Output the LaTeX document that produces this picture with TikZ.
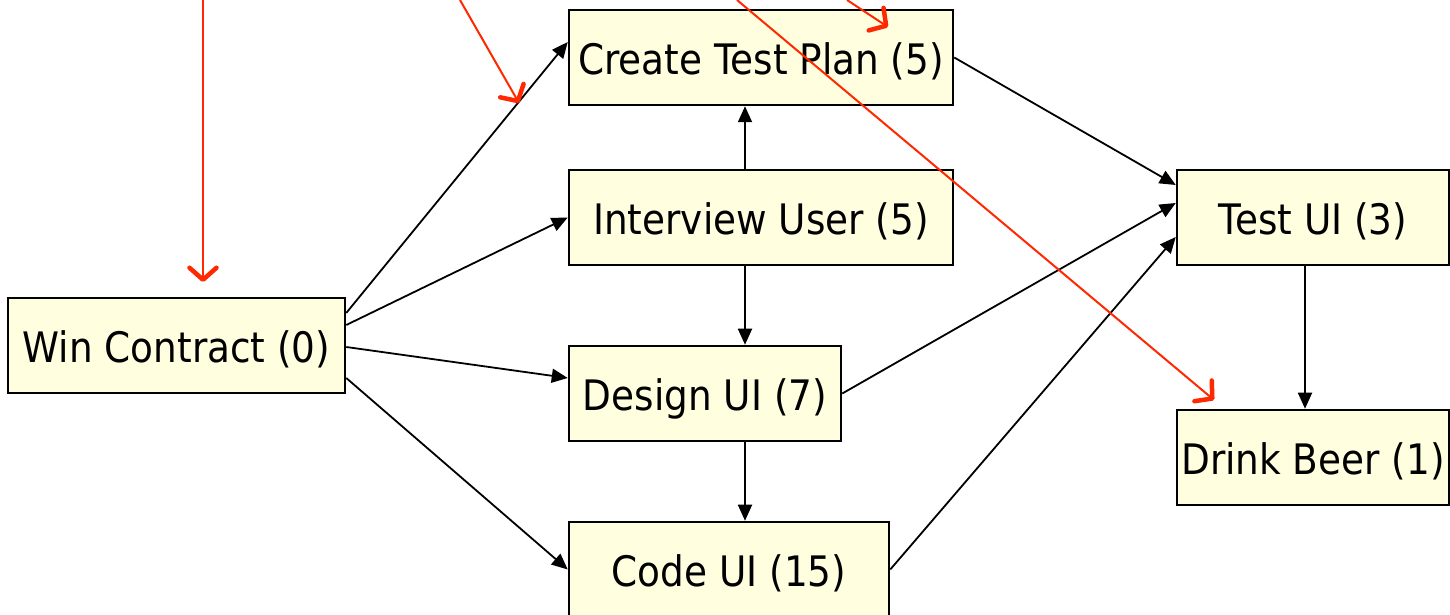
\documentclass[tikz,border=0pt]{standalone}
\usepackage{fontspec}
\setmainfont{DejaVu Sans}[FakeStretch=0.89]
\usepackage{tikz}
\usetikzlibrary{positioning, arrows.meta}
\definecolor{taskfill}{RGB}{255,255,224}
\definecolor{noteline}{RGB}{255,40,0}

\begin{document}
\begin{tikzpicture}[x=1pt,y=1pt,
        task/.style={draw=black,line width=2.5pt,fill=taskfill,inner sep=0pt,
            minimum height=95pt,text height=40pt,text depth=5.5pt,
            font=\fontsize{42}{50}\selectfont},
        link/.style={line width=1.8pt,-{Triangle[length=16pt,width=14pt]}},
        note/.style={line width=2pt,noteline,
            -{Straight Barb[length=12pt,width=27pt,line width'=4.5pt,round]}}]
        \useasboundingbox (0,0) rectangle (1450,615);

        % tasks
        \node[task,minimum width=337pt] (win) at (176.5,269.5) {Win Contract (0)};
        \node[task,minimum width=384pt] (plan) at (761,557.5) {Create Test Plan (5)};
        \node[task,minimum width=384pt] (interview) at (761,397.5) {Interview User (5)};
        \node[task,minimum width=272pt] (design) at (705,221.5) {Design UI (7)};
        \node[task,minimum width=320pt] (code) at (729,45.5) {Code UI (15)};
        \node[task,minimum width=272pt] (test) at (1313,397.5) {Test UI (3)};
        \node[task,minimum width=272pt] (beer) at (1313,157.5) {Drink Beer (1)};

        % dependencies
        \draw[link] ([yshift=32.5]win.east) -- ([yshift=15.5]plan.west);
        \draw[link] ([yshift=20.5]win.east) -- (interview.west);
        \draw[link] ([yshift=-1.5]win.east) -- ([yshift=15.5]design.west);
        \draw[link] ([yshift=-32.5]win.east) -- (code.west);
        \draw[link] ([xshift=-16]interview.north) -- ([xshift=-16]plan.south);
        \draw[link] ([xshift=-16]interview.south) -- ([xshift=40]design.north);
        \draw[link] ([xshift=40]design.south) -- ([xshift=16]code.north);
        \draw[link] (plan.east) -- ([yshift=32.5]test.west);
        \draw[link] (design.east) -- ([yshift=14.5]test.west);
        \draw[link] (code.east) -- ([yshift=-19.5]test.west);
        \draw[link] ([xshift=-8]test.south) -- ([xshift=-8]beer.north);

        % red pointers
        \coordinate (n1) at (203,615);
        \coordinate (n1tip) at (203,333);
        \coordinate (n2) at (460,615);
        \coordinate (n2tip) at (519,512);
        \coordinate (n3) at (737,615);
        \coordinate (n3tip) at (1214,215);
        \coordinate (n4) at (847,615);
        \coordinate (n4tip) at (888,588);
        \draw[note] (n1) -- (n1tip);
        \draw[note] (n2) -- (n2tip);
        \draw[note] (n3) -- (n3tip);
        \draw[note] (n4) -- (n4tip);
\end{tikzpicture}
\end{document}
